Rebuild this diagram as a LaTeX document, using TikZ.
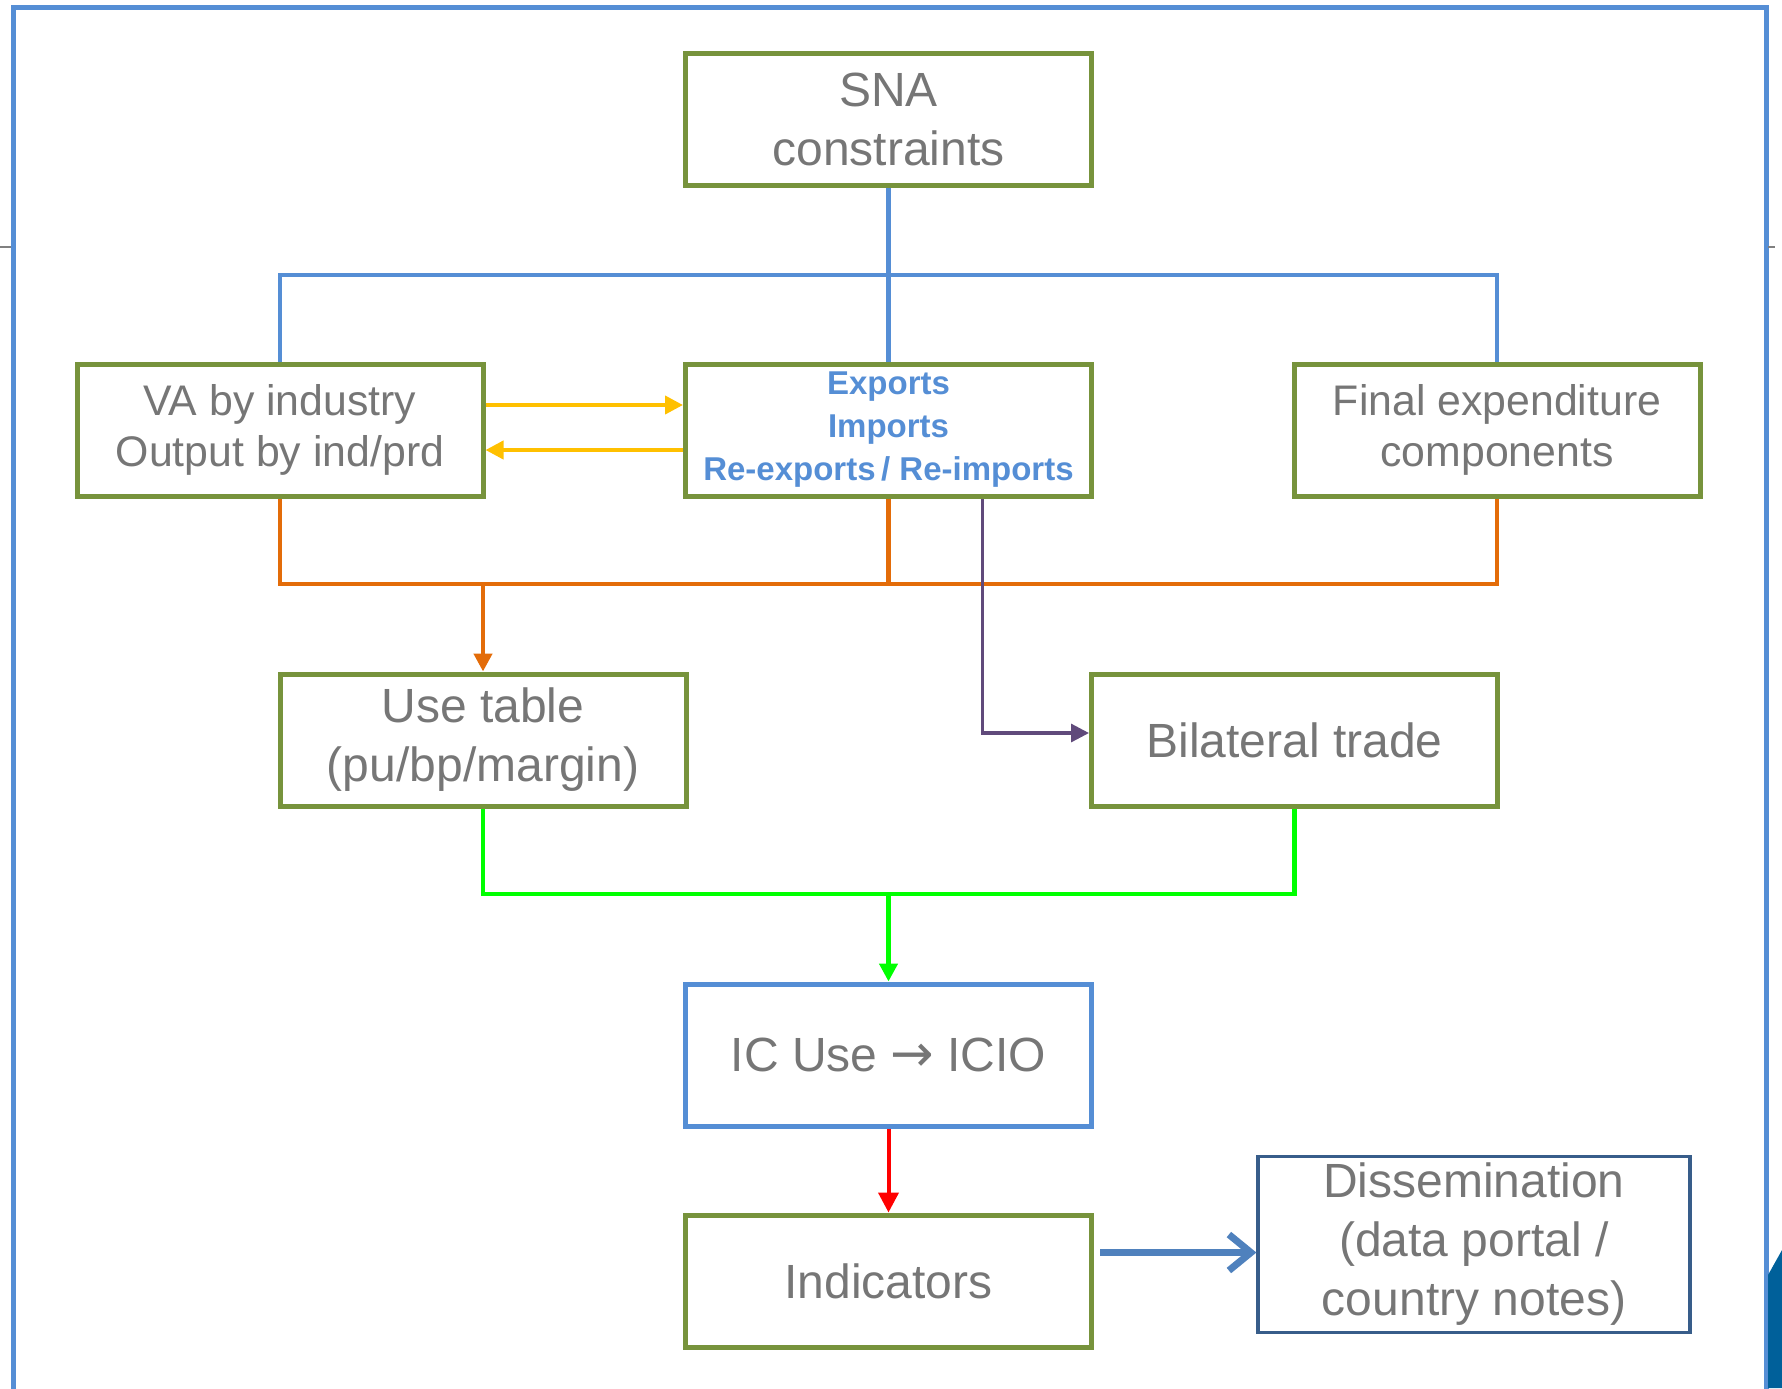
\documentclass[tikz,border=0pt]{standalone}
\usepackage{fontspec}
\setmainfont{Liberation Sans}
\newfontfamily\arrowfont{DejaVu Sans}
\usetikzlibrary{arrows.meta}

\definecolor{framebl}{HTML}{558ED5}
\definecolor{boxgrn}{HTML}{77933C}
\definecolor{txtgray}{HTML}{767676}
\definecolor{orng}{HTML}{E36C09}
\definecolor{purp}{HTML}{604A7B}
\definecolor{yell}{HTML}{FFC000}
\definecolor{dissbl}{HTML}{385D8A}
\definecolor{arrbl}{HTML}{4F81BD}
\definecolor{cornerbl}{HTML}{00609A}

\tikzset{
	box/.style={draw=boxgrn, line width=2.5pt, minimum width=203pt, minimum height=66pt,
		align=center, text=txtgray, font=\fontsize{24}{29.5}\selectfont},
	smallbox/.style={box, font=\fontsize{21.4}{25.5}\selectfont},
	tip/.style={-{Triangle[length=9pt,width=9pt]}},
}

\begin{document}
	\begin{tikzpicture}[x=0.5pt, y=-0.5pt]
		\useasboundingbox (0,0) rectangle (1782,1388);
		\clip (0,0) rectangle (1782,1388);
		
		% slide frame
		\draw[framebl, line width=2.5pt] (13,7) rectangle (1766,1420);
		\draw[gray, line width=0.6pt] (0,247) -- (11,247);
		\draw[gray, line width=0.6pt] (1768,247) -- (1775,247);
		\fill[cornerbl] (1768,1275) -- (1782,1250) -- (1782,1388) -- (1768,1388) -- cycle;
		
		% boxes
		\node[box] (SNA) at (888.5,119) {SNA\\constraints};
		\node[smallbox] (VA) at (280,430) {VA by industry\\Output by ind/prd};
		\node[box, text=framebl, font=\bfseries\fontsize{16.5}{21.5}\selectfont] (EX) at (888.5,430)
			{Exports\\Imports\\Re-exports\,/ Re-imports};
		\node[smallbox] (FE) at (1497,430) {Final expenditure\\components};
		\node[box] (UT) at (483,740) {Use table\\(pu/bp/margin)};
		\node[box] (BT) at (1294.5,740) {Bilateral trade};
		\node[box, draw=framebl, minimum height=71pt] (IC) at (888.5,1055)
			{IC Use {\arrowfont\fontsize{26}{29.5}\selectfont →} ICIO};
		\node[box] (IND) at (888.5,1281) {Indicators};
		\node[box, draw=dissbl, line width=1.6pt, minimum width=216pt, minimum height=87.5pt] (DIS)
			at (1474,1244.5) {Dissemination\\(data portal /\\country notes)};
		
		\coordinate (topbar) at (888.5,275);
		\coordinate (midbar) at (888.5,584);
		\coordinate (lowbar) at (888.5,894);
		
		% SNA tree
		\draw[framebl, line width=2.2pt] (SNA.south) -- (topbar) -- (EX.north);
		\draw[framebl, line width=2.2pt] (VA.north) |- (topbar) -| (FE.north);
		
		% trade flows between VA and trade
		\draw[yell, line width=2pt, tip] ([yshift=12.5pt]VA.east) -- ([yshift=12.5pt]EX.west);
		\draw[yell, line width=2pt, tip] ([yshift=-10pt]EX.west) -- ([yshift=-10pt]VA.east);
		
		% into use table
		\draw[orng, line width=2.2pt] (VA.south) |- (midbar) -| (FE.south);
		\draw[orng, line width=2.2pt] (EX.south) -- (midbar);
		\draw[orng, line width=2.2pt, tip] (UT.north |- midbar) -- (UT.north);
		
		% into bilateral trade
		\draw[purp, line width=1.6pt, tip] ([xshift=47pt]EX.south) |- ([yshift=3.5pt]BT.west);
		
		% into ICIO
		\draw[green, line width=2.2pt] (UT.south) |- (lowbar) -| (BT.south);
		\draw[green, line width=2.2pt, tip] (lowbar) -- (IC.north);
		
		\draw[red, line width=2pt, -{Triangle[length=10pt,width=10pt]}] (IC.south) -- (IND.north);
		\draw[arrbl, line width=3.5pt, -{Straight Barb[length=11pt,width=18pt]}]
			([xshift=3pt, yshift=-4pt]IND.east |- DIS.west) -- ([yshift=-4pt]DIS.west);
	\end{tikzpicture}
\end{document}
